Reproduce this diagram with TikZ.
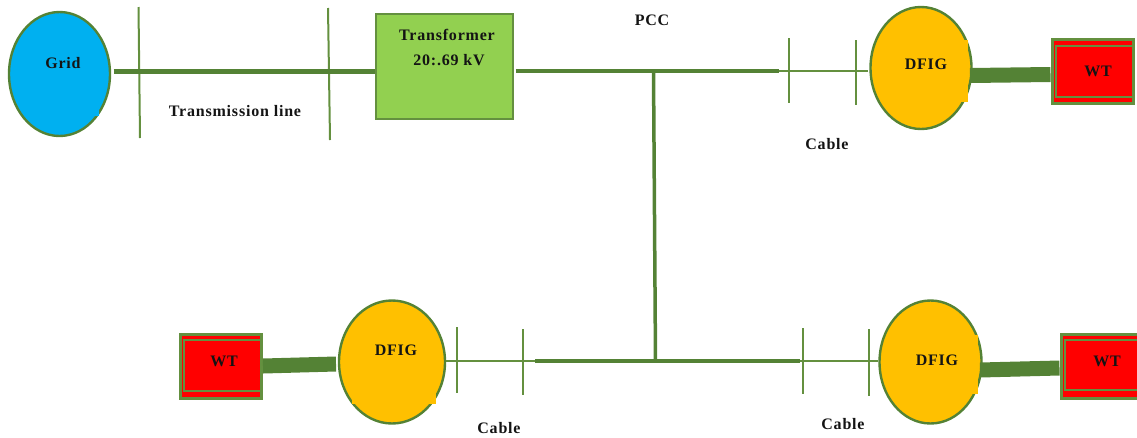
\documentclass[tikz,border=0pt]{standalone}
\usepackage{fontspec}
\setmainfont{Liberation Serif}[LetterSpace=5]
\usetikzlibrary{shapes.geometric}
\definecolor{lgreen}{HTML}{548235}
\definecolor{lblue}{HTML}{00B0F0}
\definecolor{lyellow}{HTML}{FFC000}
\definecolor{lleaf}{HTML}{92D050}
\definecolor{wtborder}{HTML}{64903F}
\tikzset{
  txt/.style={font=\fontsize{16}{18}\selectfont\bfseries,inner sep=0pt,text=black!92},
  machine/.style={ellipse,draw=lgreen,line width=2.4pt,inner sep=0pt},
  xformer/.style={rectangle,draw=wtborder,line width=2.5pt,fill=lleaf,inner sep=0pt,minimum width=137pt,minimum height=105pt},
  wtouter/.style={rectangle,draw=wtborder,line width=3pt,fill=red,inner sep=0pt,minimum width=81pt,minimum height=64pt},
  wtinner/.style={rectangle,draw=wtborder,line width=2pt,inner sep=0pt},
  busbar/.style={draw=lgreen,line width=3.5pt},
  thinline/.style={draw=wtborder,line width=1.7pt},
  tick/.style={draw=wtborder,line width=2pt},
  shaft/.style={draw=lgreen,line width=15pt},
}
\begin{document}
\begin{tikzpicture}[x=1pt,y=-1pt]
\useasboundingbox (0,0) rectangle (1137,437);
\clip (0,0) rectangle (1137,437);
% machines
\node[machine,fill=lblue,minimum width=101pt,minimum height=124pt] (grid) at (59.5,74) {};
\fill[lblue] (60,60) rectangle (98.5,115.5);
\node[machine,fill=lyellow,minimum width=101pt,minimum height=122pt] (dfigA) at (921,68) {};
\fill[lyellow] (900,40) rectangle (967.5,102);
\node[machine,fill=lyellow,minimum width=106pt,minimum height=123pt] (dfigB) at (392,362) {};
\fill[lyellow] (352,335) rectangle (436,404);
\node[machine,fill=lyellow,minimum width=102pt,minimum height=123pt] (dfigC) at (930.5,362) {};
\fill[lyellow] (900,335) rectangle (978,394);
\node[xformer] (xf) at (444.5,66.5) {};
% wind turbines
\node[wtouter] (wtA) at (1092.5,71.5) {};
\node[wtinner,minimum width=77pt,minimum height=51pt] (wtAi) at (1094.5,71) {};
\node[wtouter] (wtB) at (221,366) {};
\node[wtinner,minimum width=78pt,minimum height=51pt] (wtBi) at (222.5,365) {};
\node[wtouter,minimum width=80pt] (wtC) at (1101,366) {};
\node[wtinner,minimum width=80pt,minimum height=50pt] (wtCi) at (1105,365) {};
% junctions and bus ends
\coordinate (pccT) at (653.5,71);
\coordinate (pccB) at (655.5,361);
\coordinate (busAend) at (779,71);
\coordinate (busBend) at (535,361);
\coordinate (busCend) at (800,361);
% ticks
\coordinate (t1a) at (138.5,7);  \coordinate (t1b) at (140,138);
\coordinate (t2a) at (328,8);    \coordinate (t2b) at (330,140);
\coordinate (t3a) at (789,38);   \coordinate (t3b) at (789,103);
\coordinate (t4a) at (856,40);   \coordinate (t4b) at (856,105);
\coordinate (t5a) at (457,327);  \coordinate (t5b) at (457,393);
\coordinate (t6a) at (523,329);  \coordinate (t6b) at (523,395);
\coordinate (t7a) at (803,328);  \coordinate (t7b) at (803,394);
\coordinate (t8a) at (869,329);  \coordinate (t8b) at (869,396);
\foreach \n in {1,...,8} \draw[tick] (t\n a) -- (t\n b);
% connectors
\draw[busbar,line width=4.5pt] ([xshift=2.5pt,yshift=2.5pt]grid.east) -- ([yshift=-2.5pt]xf.west |- 0,69);
\draw[busbar] (xf.east |- pccT) ++(1.5,0) -- (busAend);
\draw[thinline] (busAend) -- (868,71);
\draw[busbar] (pccT) -- (pccB);
\draw[busbar] (busBend) -- (busCend);
\draw[thinline] (dfigB.east |- pccB) -- (busBend);
\draw[thinline] (busCend) -- (dfigC.west |- pccB);
\draw[shaft] (970,75.5) -- (wtA.west |- 0,74.5);
\draw[shaft] (wtB.east |- 0,366) -- (336,364);
\draw[shaft] (980,370) -- (wtC.west |- 0,368);
% labels
\node[txt] (lgrid) at (63,63) {Grid};
\node[txt] (lxf1) at (447,35) {Transformer};
\node[txt] (lxf2) at (449,60) {20:.69 kV};
\node[txt] (ltl) at (235,111) {Transmission line};
\node[txt] (lpcc) at (652,20) {PCC};
\node[txt] (ldA) at (926,64) {DFIG};
\node[txt] (ldB) at (396,350) {DFIG};
\node[txt] (ldC) at (937,360) {DFIG};
\node[txt] (lwA) at (1098,71) {WT};
\node[txt] (lwB) at (224,361) {WT};
\node[txt] (lwC) at (1107,361) {WT};
\node[txt] (lc1) at (827,144) {Cable};
\node[txt] (lc2) at (499,428) {Cable};
\node[txt] (lc3) at (843,424) {Cable};
\end{tikzpicture}
\end{document}
